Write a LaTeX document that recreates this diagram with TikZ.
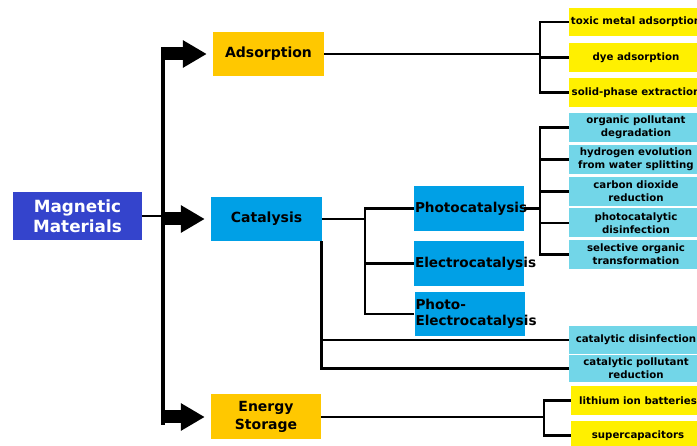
\documentclass[tikz,border=0pt]{standalone}
\usepackage{fontspec}
\setmainfont{DejaVu Sans}
\usetikzlibrary{arrows.meta,positioning}
\definecolor{RoyalBox}{RGB}{52,68,204}
\definecolor{AmberBox}{RGB}{255,200,0}
\definecolor{CyanBox}{RGB}{0,160,230}
\definecolor{LemonBox}{RGB}{255,240,0}
\definecolor{SkyBox}{RGB}{114,214,232}

\begin{document}
\begin{tikzpicture}[x=1pt,y=-1pt,
  mainbox/.style={inner sep=0pt, align=center, font=\fontsize{14}{18}\selectfont\bfseries},
  subbox/.style={fill=CyanBox, minimum width=110pt, minimum height=45pt, text width=108pt,
                 inner xsep=1pt, align=left, font=\fontsize{13.6}{16}\selectfont\bfseries},
  leaf/.style={minimum width=134pt, minimum height=29pt, inner sep=0pt, align=center,
               font=\fontsize{10.2}{13}\selectfont\bfseries},
  link/.style={line width=2.8pt},
  fatarrow/.style={line width=13pt, -{Triangle[width=26pt,length=24pt]}, shorten >=6pt}]
\useasboundingbox (0,0) rectangle (697,446);

% main boxes
\node[mainbox, fill=RoyalBox, text=white, minimum width=129pt, minimum height=48pt,
      font=\fontsize{16.8}{20}\selectfont\bfseries] (mm) at (77.5,216) {Magnetic\\Materials};
\node[mainbox, fill=AmberBox, minimum width=111pt, minimum height=44pt] (ads) at (268.5,54) {Adsorption};
\node[mainbox, fill=CyanBox, minimum width=111pt, minimum height=44pt] (cat) at (266.5,219) {Catalysis};
\node[mainbox, fill=AmberBox, minimum width=110pt, minimum height=45pt] (ene) at (266,417) {Energy\\Storage};

% catalysis types
\node[subbox] (photo) at (469,208.5) {Photocatalysis};
\node[subbox] (elec) at (469,263.5) {Electrocatalysis};
\node[subbox, minimum height=44pt] (pec) at (469.5,314) {Photo-\\Electrocatalysis};

% leaves
\node[leaf, fill=LemonBox, minimum height=28pt] (tox) at (636,22) {toxic metal adsorption};
\node[leaf, fill=LemonBox] (dye) at (636,57.5) {dye adsorption};
\node[leaf, fill=LemonBox] (spe) at (636,92.5) {solid-phase extraction};
\node[leaf, fill=SkyBox] (opd) at (636,127.5) {organic pollutant\\degradation};
\node[leaf, fill=SkyBox] (hyd) at (636,159.5) {hydrogen evolution\\from water splitting};
\node[leaf, fill=SkyBox] (co2) at (636,191.5) {carbon dioxide\\reduction};
\node[leaf, fill=SkyBox] (pdis) at (636,223) {photocatalytic\\disinfection};
\node[leaf, fill=SkyBox] (sel) at (636,254.5) {selective organic\\transformation};
\node[leaf, fill=SkyBox, minimum height=28pt] (cdis) at (636,340) {catalytic disinfection};
\node[leaf, fill=SkyBox, minimum height=27pt] (cpr) at (636,368.5) {catalytic pollutant\\reduction};
\node[leaf, fill=LemonBox] (lib) at (638,400.5) {lithium ion batteries};
\node[leaf, fill=LemonBox] (sup) at (638,435.5) {supercapacitors};

% trunk and fat arrows
\coordinate (trunktop) at (163,47);
\coordinate (trunkbot) at (163,425);
\draw[line width=3.2pt] (trunktop) -- (trunkbot);
\draw[link] (mm.east) -- (mm.east -| trunktop);
\foreach \n in {ads,cat,ene}
  \draw[fatarrow] (\n.west -| trunktop) -- (\n.west);

% branches
\coordinate (adsj) at (540,54);
\draw[link] (ads.east) -- (adsj);
\foreach \n in {tox,dye,spe}
  \draw[link] (\n.west) -| (adsj);

\coordinate (catj) at (365,219);
\draw[link] (cat.east) -- (catj);
\foreach \n in {photo,elec,pec}
  \draw[link] (\n.west) -| (catj);

\coordinate (phj) at (540,208.5);
\draw[link] (photo.east) -- (phj);
\foreach \n in {opd,hyd,co2,pdis,sel}
  \draw[link] (\n.west) -| (phj);

\coordinate (catb) at ([xshift=-1pt]cat.south east);
\foreach \n in {cdis,cpr}
  \draw[link] (\n.west) -| (catb);

\coordinate (enej) at (544,417);
\draw[link] (ene.east) -- (enej);
\foreach \n in {lib,sup}
  \draw[link] (\n.west) -| (enej);
\end{tikzpicture}
\end{document}
